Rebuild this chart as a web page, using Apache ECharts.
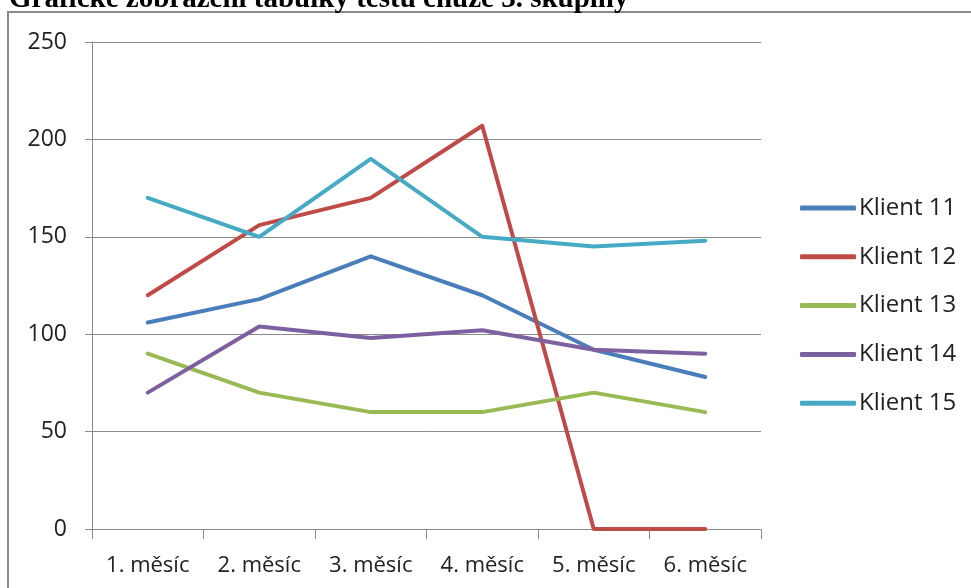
<!DOCTYPE html>
<html>
<head>
<meta charset="utf-8">
<script src="https://cdn.jsdelivr.net/npm/echarts@6/dist/echarts.min.js"></script>
<style>
html,body{margin:0;padding:0;background:#fff;}
#chart{width:971px;height:588px;}
</style>
</head>
<body>
<div id="chart"></div>
<script>
// Monthly walking-test results for group 3
const months = ['1. měsíc', '2. měsíc', '3. měsíc', '4. měsíc', '5. měsíc', '6. měsíc'];
const klient11 = [106, 118, 140, 120, 92, 78];
const klient12 = [120, 156, 170, 207, 0, 0];
const klient13 = [90, 70, 60, 60, 70, 60];
const klient14 = [70, 104, 98, 102, 92, 90];
const klient15 = [170, 150, 190, 150, 145, 148];
const seriesNames = ['Klient 11', 'Klient 12', 'Klient 13', 'Klient 14', 'Klient 15'];
const seriesColors = ['#4a7ebb', '#be4b48', '#98b954', '#7d60a0', '#46aac5'];
const yTicks = { min: 0, max: 250, interval: 50 };

const chart = echarts.init(document.getElementById('chart'), null, { renderer: 'canvas' });
const allData = [klient11, klient12, klient13, klient14, klient15];

chart.setOption({
  backgroundColor: '#fff',
  animation: false,
  title: {
    text: 'Grafické zobrazení tabulky testu chůze 3. skupiny',
    left: 4,
    top: -20,
    textStyle: { fontFamily: 'Liberation Serif', fontWeight: 'bold', fontSize: 29, color: '#000' }
  },
  graphic: [{
    type: 'rect',
    shape: { x: 8, y: 12, width: 1000, height: 640 },
    style: { fill: null, stroke: '#8a8a8a', lineWidth: 2 },
    silent: true,
    z: -1
  }],
  legend: {
    orient: 'vertical',
    left: 795,
    top: 191,
    itemWidth: 56,
    itemHeight: 5,
    itemGap: 24.8,
    icon: 'roundRect',
    textStyle: { fontFamily: 'Open Sans', fontSize: 24, color: '#222', padding: [0, 0, 0, -2] },
    data: seriesNames
  },
  grid: { left: 92, right: 210, top: 42, bottom: 59, containLabel: false },
  xAxis: {
    type: 'category',
    data: months,
    boundaryGap: true,
    axisLine: { lineStyle: { color: '#8a8a8a', width: 1 } },
    axisTick: { show: true, length: 10, alignWithLabel: false, lineStyle: { color: '#8a8a8a' } },
    axisLabel: { fontFamily: 'Open Sans', fontSize: 22, color: '#222', margin: 26 }
  },
  yAxis: {
    type: 'value',
    min: yTicks.min,
    max: yTicks.max,
    interval: yTicks.interval,
    axisLine: { show: true, lineStyle: { color: '#8a8a8a', width: 1 } },
    axisTick: { show: true, inside: false, length: 7, lineStyle: { color: '#8a8a8a' } },
    splitLine: { show: true, lineStyle: { color: '#8a8a8a', width: 1 } },
    axisLabel: { fontFamily: 'Open Sans', fontSize: 23, color: '#222', margin: 25 }
  },
  series: seriesNames.map((name, i) => ({
    name: name,
    type: 'line',
    data: allData[i],
    showSymbol: false,
    symbol: 'none',
    lineStyle: { width: 4, color: seriesColors[i], cap: 'round', join: 'round' },
    itemStyle: { color: seriesColors[i] }
  }))
});
</script>
</body>
</html>
